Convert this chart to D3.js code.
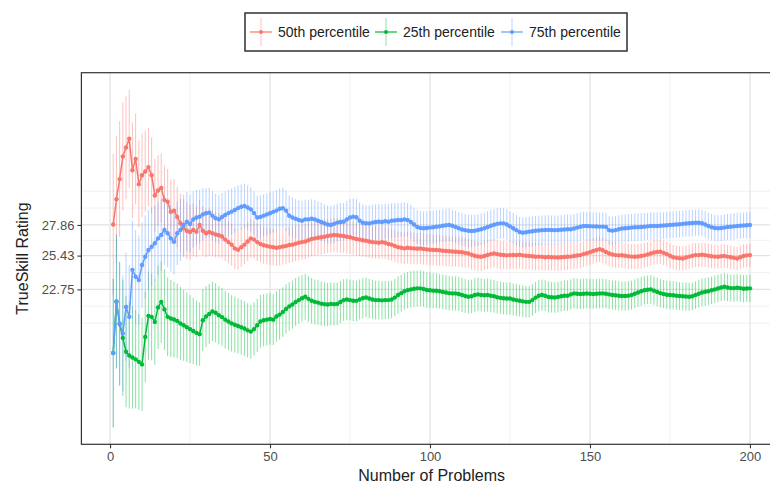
<!DOCTYPE html>
<html>
<head>
<meta charset="utf-8">
<script src="https://cdn.jsdelivr.net/npm/d3@7/dist/d3.min.js"></script>
<style>
body { margin: 0; background: #fff; }
text { font-family: "Liberation Sans", Arial, sans-serif; }
</style>
</head>
<body>
<svg width="770" height="484"></svg>
<script>
// data, one value per problem count (1..200)
var problems = d3.range(1, 201);
var yTicks = [22.75, 25.43, 27.86];
var xTicks = [0, 50, 100, 150, 200];
var seriesNames = ["50th percentile", "25th percentile", "75th percentile"];

var p50 = [27.9,29.9,31.5,33.3,34.0,34.7,32.2,33.1,31.1,31.8,
  32.1,32.45,31.8,30.2,30.6,30.8,29.85,29.7,28.9,29.0,
  28.5,28.0,27.6,27.4,27.3,27.46,27.33,27.86,27.4,27.2,
  27.3,27.2,27.1,27.05,26.95,26.7,26.5,26.3,26.0,25.9,
  26.1,26.3,26.55,26.8,26.7,26.5,26.35,26.25,26.2,26.14,
  26.1,26.05,26.09,26.15,26.2,26.27,26.3,26.38,26.45,26.5,
  26.55,26.65,26.75,26.8,26.85,26.88,26.93,26.98,27.02,27.07,
  27.05,27.0,26.98,26.92,26.88,26.82,26.75,26.7,26.65,26.61,
  26.55,26.5,26.48,26.45,26.5,26.45,26.35,26.3,26.2,26.1,
  26.05,26.0,26.05,26.02,26.0,25.98,26.0,25.95,25.92,25.9,
  25.88,25.87,25.85,25.82,25.8,25.78,25.75,25.74,25.72,25.7,
  25.65,25.6,25.5,25.42,25.36,25.34,25.4,25.48,25.55,25.6,
  25.55,25.5,25.48,25.45,25.47,25.48,25.47,25.5,25.45,25.42,
  25.4,25.38,25.34,25.35,25.33,25.3,25.32,25.3,25.29,25.28,
  25.3,25.32,25.34,25.35,25.4,25.44,25.47,25.55,25.62,25.7,
  25.8,25.88,25.93,25.85,25.72,25.6,25.52,25.47,25.45,25.46,
  25.42,25.38,25.35,25.34,25.36,25.4,25.45,25.52,25.6,25.68,
  25.72,25.74,25.65,25.55,25.42,25.3,25.25,25.22,25.2,25.28,
  25.35,25.42,25.47,25.47,25.5,25.47,25.42,25.38,25.35,25.34,
  25.38,25.4,25.35,25.3,25.25,25.2,25.3,25.4,25.45,25.47];

var p25 = [17.7,21.8,20.0,18.9,17.8,17.5,17.35,17.2,17.0,16.8,
  18.98,20.65,20.57,20.17,21.32,21.76,21.16,20.57,20.44,20.36,
  20.25,20.05,19.9,19.75,19.6,19.45,19.3,19.2,20.3,20.6,
  20.8,21.0,20.9,20.7,20.55,20.35,20.2,20.05,19.95,19.85,
  19.75,19.65,19.5,19.4,19.6,19.9,20.2,20.3,20.35,20.4,
  20.35,20.6,20.75,20.95,21.2,21.4,21.55,21.75,21.9,22.05,
  22.16,22.0,21.85,21.76,21.7,21.62,21.58,21.55,21.6,21.58,
  21.6,21.75,21.9,21.95,21.9,21.85,21.84,21.95,22.05,22.11,
  22.03,21.95,21.9,21.9,21.88,21.9,21.9,21.95,22.1,22.3,
  22.45,22.6,22.69,22.75,22.8,22.83,22.83,22.78,22.7,22.68,
  22.65,22.64,22.6,22.55,22.5,22.45,22.43,22.43,22.38,22.3,
  22.22,22.16,22.2,22.3,22.35,22.3,22.28,22.3,22.25,22.2,
  22.12,22.08,22.05,22.03,22.03,21.95,21.9,21.85,21.8,21.76,
  21.76,21.9,22.1,22.25,22.3,22.25,22.15,22.12,22.11,22.15,
  22.2,22.25,22.25,22.35,22.43,22.4,22.38,22.4,22.42,22.4,
  22.38,22.4,22.42,22.43,22.4,22.35,22.3,22.28,22.25,22.22,
  22.22,22.25,22.3,22.4,22.5,22.6,22.68,22.72,22.75,22.65,
  22.55,22.45,22.38,22.32,22.3,22.28,22.25,22.22,22.2,22.18,
  22.16,22.2,22.3,22.4,22.5,22.56,22.6,22.68,22.75,22.82,
  22.9,22.96,22.9,22.85,22.85,22.88,22.85,22.8,22.82,22.83];

var p75 = [17.71,21.75,20.05,19.25,21.36,20.57,24.3,23.75,23.49,24.68,
  25.34,25.87,26.13,26.41,26.8,27.07,27.46,27.2,26.8,26.53,
  27.2,27.46,27.86,28.12,27.94,28.3,28.45,28.52,28.7,28.79,
  28.84,28.6,28.4,28.31,28.5,28.65,28.8,28.92,29.05,29.2,
  29.3,29.37,29.25,29.1,28.8,28.45,28.5,28.6,28.7,28.79,
  28.9,29.0,29.15,29.2,29.0,28.6,28.45,28.35,28.25,28.2,
  28.3,28.3,28.35,28.3,28.2,28.1,28.0,27.9,27.86,27.95,
  28.05,28.1,28.12,28.3,28.45,28.52,28.47,28.2,28.04,28.0,
  27.99,28.05,28.1,28.12,28.1,28.15,28.12,28.2,28.22,28.25,
  28.26,28.3,28.26,28.1,27.9,27.7,27.62,27.6,27.62,27.65,
  27.68,27.72,27.75,27.8,27.84,27.86,27.8,27.7,27.6,27.5,
  27.45,27.4,27.38,27.4,27.46,27.52,27.6,27.7,27.8,27.88,
  27.95,27.99,27.99,27.9,27.75,27.6,27.45,27.3,27.25,27.28,
  27.33,27.36,27.4,27.42,27.45,27.46,27.47,27.46,27.45,27.46,
  27.48,27.5,27.52,27.52,27.58,27.65,27.72,27.78,27.78,27.76,
  27.75,27.74,27.73,27.73,27.7,27.45,27.41,27.45,27.52,27.58,
  27.6,27.62,27.65,27.68,27.68,27.7,27.72,27.75,27.78,27.78,
  27.78,27.8,27.82,27.84,27.86,27.88,27.9,27.92,27.95,27.98,
  28.0,28.02,28.04,28.04,28.0,27.9,27.78,27.68,27.62,27.6,
  27.62,27.65,27.7,27.72,27.75,27.78,27.8,27.82,27.84,27.86];

// error bar half widths
var p50err = [5.6,5.0,4.6,4.3,4.1,3.9,3.8,3.6,3.45,3.3,
  3.2,3.1,3.0,2.9,2.8,2.75,2.7,2.6,2.55,2.5,
  2.4,2.35,2.3,2.25,2.2,2.1,2.05,2.0,1.95,1.9,
  1.87,1.84,1.8,1.77,1.74,1.71,1.68,1.65,1.63,1.6,
  1.58,1.56,1.54,1.53,1.51,1.5,1.48,1.47,1.46,1.45,
  1.45,1.44,1.43,1.43,1.42,1.41,1.41,1.4,1.4,1.39,
  1.39,1.38,1.38,1.37,1.37,1.36,1.36,1.35,1.35,1.35,
  1.34,1.34,1.33,1.33,1.32,1.32,1.31,1.31,1.3,1.3,
  1.3,1.29,1.29,1.28,1.28,1.28,1.27,1.27,1.27,1.26,
  1.26,1.26,1.25,1.25,1.25,1.25,1.24,1.24,1.24,1.23,
  1.23,1.22,1.22,1.21,1.21,1.2,1.2,1.19,1.19,1.18,
  1.18,1.17,1.17,1.16,1.16,1.15,1.15,1.14,1.14,1.13,
  1.13,1.12,1.12,1.11,1.11,1.1,1.1,1.1,1.09,1.09,
  1.08,1.08,1.08,1.07,1.07,1.07,1.06,1.06,1.06,1.05,
  1.05,1.05,1.05,1.04,1.04,1.04,1.03,1.03,1.03,1.03,
  1.02,1.02,1.02,1.02,1.01,1.01,1.01,1.01,1.0,1.0,
  1.0,1.0,0.99,0.99,0.99,0.99,0.98,0.98,0.98,0.98,
  0.98,0.97,0.97,0.97,0.97,0.97,0.96,0.96,0.96,0.96,
  0.96,0.96,0.95,0.95,0.95,0.95,0.95,0.95,0.94,0.94,
  0.94,0.94,0.94,0.94,0.94,0.93,0.93,0.93,0.93,0.93];

var p25err = [5.9,5.3,4.9,4.6,4.4,4.2,4.05,3.9,3.8,3.7,
  3.6,3.5,3.45,3.4,3.3,3.25,3.2,3.12,3.06,3.0,
  2.95,2.9,2.82,2.76,2.7,2.64,2.58,2.52,2.46,2.4,
  2.38,2.36,2.34,2.32,2.3,2.28,2.26,2.24,2.22,2.2,
  2.18,2.17,2.15,2.14,2.12,2.11,2.1,2.08,2.07,2.05,
  2.03,2.01,1.99,1.97,1.95,1.93,1.91,1.89,1.87,1.85,
  1.83,1.81,1.8,1.78,1.77,1.75,1.74,1.72,1.71,1.7,
  1.68,1.67,1.66,1.64,1.63,1.62,1.6,1.59,1.58,1.57,
  1.56,1.55,1.54,1.53,1.52,1.51,1.5,1.49,1.48,1.47,
  1.46,1.45,1.44,1.44,1.43,1.42,1.42,1.41,1.4,1.4,
  1.39,1.39,1.38,1.38,1.37,1.37,1.36,1.36,1.35,1.35,
  1.34,1.34,1.33,1.33,1.32,1.32,1.31,1.31,1.3,1.3,
  1.29,1.29,1.28,1.28,1.27,1.27,1.27,1.26,1.26,1.25,
  1.25,1.25,1.24,1.24,1.23,1.23,1.23,1.22,1.22,1.22,
  1.21,1.21,1.21,1.2,1.2,1.2,1.19,1.19,1.19,1.18,
  1.18,1.18,1.17,1.17,1.17,1.16,1.16,1.16,1.16,1.15,
  1.15,1.15,1.15,1.14,1.14,1.14,1.14,1.13,1.13,1.13,
  1.13,1.12,1.12,1.12,1.12,1.12,1.11,1.11,1.11,1.11,
  1.11,1.1,1.1,1.1,1.1,1.1,1.1,1.09,1.09,1.09,
  1.09,1.09,1.09,1.08,1.08,1.08,1.08,1.08,1.08,1.08];

var p75err = [5.9,5.3,4.9,4.6,4.3,4.1,3.9,3.7,3.55,3.4,
  3.3,3.2,3.1,3.0,2.9,2.85,2.78,2.7,2.65,2.6,
  2.52,2.46,2.4,2.35,2.3,2.24,2.18,2.12,2.06,2.0,
  1.98,1.96,1.94,1.92,1.9,1.88,1.86,1.84,1.82,1.8,
  1.78,1.77,1.75,1.74,1.72,1.71,1.7,1.68,1.67,1.65,
  1.64,1.63,1.62,1.61,1.6,1.6,1.59,1.58,1.57,1.57,
  1.56,1.55,1.55,1.54,1.53,1.53,1.52,1.51,1.51,1.5,
  1.49,1.49,1.48,1.47,1.47,1.46,1.45,1.45,1.44,1.43,
  1.43,1.42,1.41,1.41,1.4,1.39,1.39,1.38,1.37,1.37,
  1.36,1.36,1.35,1.35,1.34,1.34,1.34,1.33,1.33,1.33,
  1.32,1.32,1.31,1.31,1.3,1.3,1.29,1.29,1.28,1.28,
  1.27,1.27,1.26,1.26,1.25,1.25,1.24,1.24,1.23,1.23,
  1.22,1.22,1.21,1.21,1.21,1.2,1.2,1.19,1.19,1.19,
  1.18,1.18,1.18,1.17,1.17,1.17,1.16,1.16,1.16,1.15,
  1.15,1.15,1.15,1.14,1.14,1.14,1.13,1.13,1.13,1.13,
  1.12,1.12,1.12,1.12,1.11,1.11,1.11,1.11,1.1,1.1,
  1.1,1.1,1.09,1.09,1.09,1.09,1.08,1.08,1.08,1.08,
  1.08,1.07,1.07,1.07,1.07,1.07,1.06,1.06,1.06,1.06,
  1.06,1.06,1.05,1.05,1.05,1.05,1.05,1.05,1.04,1.04,
  1.04,1.04,1.04,1.04,1.04,1.03,1.03,1.03,1.03,1.03];

var series = [
  { name: seriesNames[0], color: "#F8766D", mean: p50, err: p50err },
  { name: seriesNames[1], color: "#00BA38", mean: p25, err: p25err },
  { name: seriesNames[2], color: "#619CFF", mean: p75, err: p75err }
];

var svg = d3.select("svg"),
    padL = 81.4, padR = 781.8, padT = 72.7, padB = 444.3;

// ggplot style 5% expansion
var xr = d3.extent(problems), xpad = (xr[1] - xr[0]) * 0.05;
var x = d3.scaleLinear().domain([xr[0] - xpad, xr[1] + xpad]).range([padL, padR]);

var lo = d3.min(series, function(s) { return d3.min(s.mean, function(v, i) { return v - s.err[i]; }); }),
    hi = d3.max(series, function(s) { return d3.max(s.mean, function(v, i) { return v + s.err[i]; }); }),
    ypad = (hi - lo) * 0.05;
var y = d3.scaleLinear().domain([lo - ypad, hi + ypad]).range([padB, padT]);

// minor breaks like ggplot
var yb = yTicks.slice().sort(d3.ascending), bd = yb[1] - yb[0];
var yb2 = [yb[0] - bd].concat(yb, [yb[yb.length - 1] + bd]);
var yMinor = [];
for (var i = 0; i < yb2.length - 1; i++) yMinor.push((yb2[i] + yb2[i + 1]) / 2);
yMinor.push(yb2[0], yb2[yb2.length - 1]);
var xMinor = [25, 75, 125, 175];

var grid = svg.append("g");
grid.selectAll(".ymin").data(yMinor).enter().append("line")
    .attr("x1", padL).attr("x2", padR)
    .attr("y1", function(d) { return y(d); }).attr("y2", function(d) { return y(d); })
    .attr("stroke", "#EBEBEB").attr("stroke-width", 0.7);
grid.selectAll(".xmin").data(xMinor).enter().append("line")
    .attr("y1", padT).attr("y2", padB)
    .attr("x1", function(d) { return x(d); }).attr("x2", function(d) { return x(d); })
    .attr("stroke", "#EBEBEB").attr("stroke-width", 0.7);
grid.selectAll(".ymaj").data(yTicks).enter().append("line")
    .attr("x1", padL).attr("x2", padR)
    .attr("y1", function(d) { return y(d); }).attr("y2", function(d) { return y(d); })
    .attr("stroke", "#E2E2E2").attr("stroke-width", 1.2);
grid.selectAll(".xmaj").data(xTicks).enter().append("line")
    .attr("y1", padT).attr("y2", padB)
    .attr("x1", function(d) { return x(d); }).attr("x2", function(d) { return x(d); })
    .attr("stroke", "#E2E2E2").attr("stroke-width", 1.2);

// error bars first
series.forEach(function(s) {
    svg.append("g").selectAll("line").data(problems).enter().append("line")
        .attr("x1", function(d) { return x(d); }).attr("x2", function(d) { return x(d); })
        .attr("y1", function(d, i) { return y(s.mean[i] - s.err[i]); })
        .attr("y2", function(d, i) { return y(s.mean[i] + s.err[i]); })
        .attr("stroke", s.color).attr("stroke-opacity", 0.45).attr("stroke-width", 1);
});

var line = d3.line()
    .x(function(d) { return x(d[0]); })
    .y(function(d) { return y(d[1]); });

series.forEach(function(s) {
    var pts = problems.map(function(p, i) { return [p, s.mean[i]]; });
    svg.append("path").datum(pts)
        .attr("fill", "none").attr("stroke", s.color).attr("stroke-width", 1.5)
        .attr("d", line);
    svg.append("g").selectAll("circle").data(pts).enter().append("circle")
        .attr("cx", function(d) { return x(d[0]); })
        .attr("cy", function(d) { return y(d[1]); })
        .attr("r", 2.2)
        .attr("fill", s.color);
});

// panel border
svg.append("rect").attr("x", padL).attr("y", padT)
    .attr("width", padR - padL).attr("height", padB - padT)
    .attr("fill", "none").attr("stroke", "#333333").attr("stroke-width", 1.2);

// axes
var yAxis = svg.append("g").attr("transform", "translate(" + padL + ",0)")
    .call(d3.axisLeft(y).tickValues(yTicks).tickSize(4).tickPadding(3).tickFormat(d3.format(".2f")));
var xAxis = svg.append("g").attr("transform", "translate(0," + padB + ")")
    .call(d3.axisBottom(x).tickValues(xTicks).tickSize(4).tickPadding(3));
[yAxis, xAxis].forEach(function(a) {
    a.select(".domain").remove();
    a.selectAll(".tick line").attr("stroke", "#333333").attr("stroke-width", 1.1);
    a.selectAll(".tick text").attr("fill", "#4D4D4D").style("font-size", "13px")
        .style("font-family", "'Liberation Sans', Arial, sans-serif");
});

svg.append("text").attr("x", (padL + padR) / 2).attr("y", 481)
    .attr("text-anchor", "middle").style("font-size", "16px").attr("fill", "#222")
    .text("Number of Problems");
svg.append("text").attr("transform", "translate(28," + (padT + padB) / 2 + ") rotate(-90)")
    .attr("text-anchor", "middle").style("font-size", "16px").attr("fill", "#222")
    .text("TrueSkill Rating");

// legend
var legend = svg.append("g");
legend.append("rect").attr("x", 245).attr("y", 13).attr("width", 382).attr("height", 38)
    .attr("fill", "#fff").attr("stroke", "#222").attr("stroke-width", 1.4);
var keyX = [261, 386, 512];
series.forEach(function(s, i) {
    var k = legend.append("g").attr("transform", "translate(" + keyX[i] + ",32)");
    k.append("line").attr("x1", 0).attr("x2", 0).attr("y1", -14).attr("y2", 14)
        .attr("stroke", s.color).attr("stroke-opacity", 0.45);
    k.append("line").attr("x1", -11).attr("x2", 11).attr("y1", 0).attr("y2", 0)
        .attr("stroke", s.color).attr("stroke-width", 1.2);
    k.append("circle").attr("r", 2).attr("fill", s.color);
    legend.append("text").attr("x", keyX[i] + 17).attr("y", 37)
        .style("font-size", "14px").attr("fill", "#222").text(s.name);
});
</script>
</body>
</html>
